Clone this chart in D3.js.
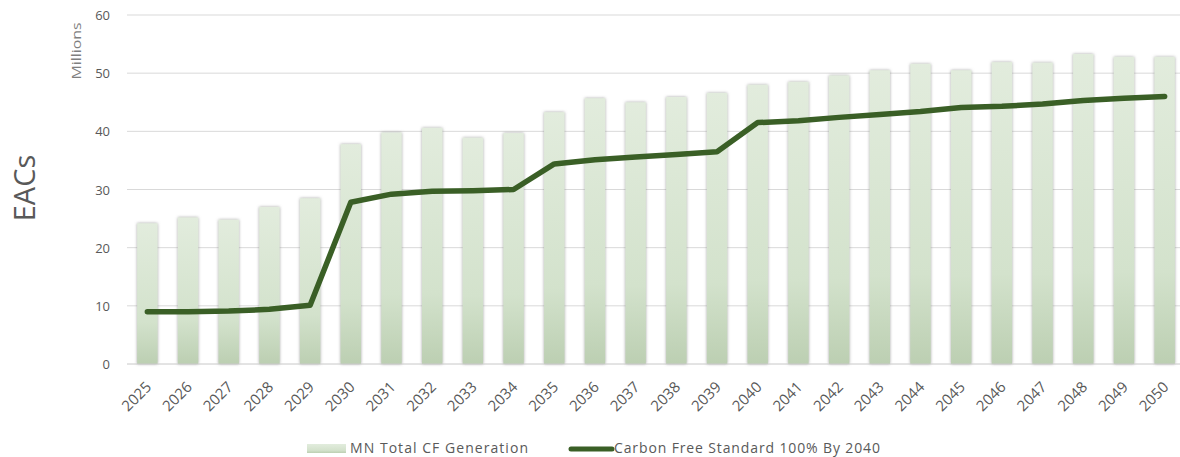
<!DOCTYPE html>
<html>
<head>
<meta charset="utf-8">
<script src="https://cdn.jsdelivr.net/npm/d3@7"></script>
<style>
  html, body { margin: 0; padding: 0; background: #fff; }
  svg { display: block; font-family: "Open Sans", sans-serif; }
</style>
</head>
<body>
<svg id="chart" width="1180" height="457"></svg>
<script>
const years = d3.range(2025, 2051).map(String)
const generation = [24.2, 25.2, 24.8, 27.0, 28.5, 37.8, 39.8, 40.6, 38.9, 39.7, 43.3, 45.7, 45.0, 45.9, 46.6, 48.0, 48.5, 49.6, 50.5, 51.6, 50.5, 51.9, 51.8, 53.3, 52.8, 52.8]
const standard = [9.0, 9.0, 9.1, 9.4, 10.1, 27.8, 29.2, 29.7, 29.8, 30.0, 34.4, 35.1, 35.6, 36.0, 36.5, 41.5, 41.8, 42.4, 42.9, 43.4, 44.1, 44.3, 44.7, 45.3, 45.7, 46.0]
const yTicks = [0, 10, 20, 30, 40, 50, 60]
const legendLabels = ["MN Total CF Generation", "Carbon Free Standard 100% By 2040"]

const svg = d3.select("#chart")
const plotLeft = 127, plotRight = 1185, plotTop = 15, plotBottom = 364
const lineColour = "#3a5f26"
const textColour = "#595959"

const x = d3.scaleBand().domain(years).range([plotLeft, plotRight]).paddingInner(0.5).paddingOuter(0.25)
const y = d3.scaleLinear().domain([0, 60]).range([plotBottom, plotTop])

const defs = svg.append("defs")
const grad = defs.append("linearGradient").attr("id", "barGrad")
    .attr("x1", 0).attr("y1", 0).attr("x2", 0).attr("y2", 1)
grad.append("stop").attr("offset", "0%").attr("stop-color", "#e2ecdd")
grad.append("stop").attr("offset", "70%").attr("stop-color", "#d3e2cc")
grad.append("stop").attr("offset", "100%").attr("stop-color", "#bccfb2")
const shadow = defs.append("filter").attr("id", "barShadow")
    .attr("x", "-50%").attr("y", "-10%").attr("width", "200%").attr("height", "120%")
shadow.append("feDropShadow").attr("dx", 0).attr("dy", 0).attr("stdDeviation", 1.6)
    .attr("flood-color", "#7a7a7a").attr("flood-opacity", 0.7)

// gridlines + y labels
svg.append("g").selectAll("line").data(yTicks.filter(d => d > 0)).join("line")
    .attr("x1", plotLeft).attr("x2", 1180)
    .attr("y1", d => y(d)).attr("y2", d => y(d))
    .attr("stroke", "#d9d9d9").attr("stroke-width", 1)

svg.append("g").selectAll("text").data(yTicks).join("text")
    .attr("x", 110).attr("y", d => y(d) + 5)
    .attr("text-anchor", "end")
    .attr("font-size", 13).attr("fill", textColour)
    .text(d => d)

// bars
svg.append("g").selectAll("rect").data(generation).join("rect")
    .attr("x", (d, i) => x(years[i]))
    .attr("y", d => y(d))
    .attr("width", x.bandwidth())
    .attr("height", d => y(0) - y(d))
    .attr("fill", "url(#barGrad)")
    .attr("filter", "url(#barShadow)")

// baseline
svg.append("line").attr("x1", plotLeft).attr("x2", 1180)
    .attr("y1", y(0)).attr("y2", y(0))
    .attr("stroke", "#c8c8c8").attr("stroke-width", 1)

// line series
const line = d3.line().x((d, i) => x(years[i]) + x.bandwidth() / 2).y(d => y(d))
svg.append("path").datum(standard)
    .attr("d", line)
    .attr("fill", "none")
    .attr("stroke", lineColour)
    .attr("stroke-width", 5.5)
    .attr("stroke-linecap", "round")
    .attr("stroke-linejoin", "round")

// x labels
svg.append("g").selectAll("text").data(years).join("text")
    .attr("transform", d => `translate(${x(d) + x.bandwidth() / 2 + 5},${y(0) + 24}) rotate(-45)`)
    .attr("text-anchor", "end")
    .attr("font-size", 15).attr("fill", textColour)
    .text(d => d)

// axis titles
svg.append("text")
    .attr("transform", "translate(81,51) rotate(-90)")
    .attr("text-anchor", "middle")
    .attr("font-size", 12).attr("fill", "#7f7f7f")
    .attr("textLength", 57).attr("lengthAdjust", "spacingAndGlyphs")
    .text("Millions")
svg.append("text")
    .attr("transform", "translate(35,188) rotate(-90)")
    .attr("text-anchor", "middle")
    .attr("font-size", 29).attr("fill", textColour)
    .text("EACs")

// legend
const lg = svg.append("g")
lg.append("rect").attr("x", 307).attr("y", 444).attr("width", 39).attr("height", 9)
    .attr("fill", "url(#barGrad)")
lg.append("text").attr("x", 350).attr("y", 453)
    .attr("font-size", 14).attr("fill", textColour)
    .attr("textLength", 178).attr("lengthAdjust", "spacing")
    .text(legendLabels[0])
lg.append("line").attr("x1", 571).attr("x2", 612).attr("y1", 449).attr("y2", 449)
    .attr("stroke", lineColour).attr("stroke-width", 5).attr("stroke-linecap", "round")
lg.append("text").attr("x", 614).attr("y", 453)
    .attr("font-size", 14).attr("fill", textColour)
    .attr("textLength", 266).attr("lengthAdjust", "spacing")
    .text(legendLabels[1])
</script>
</body>
</html>
